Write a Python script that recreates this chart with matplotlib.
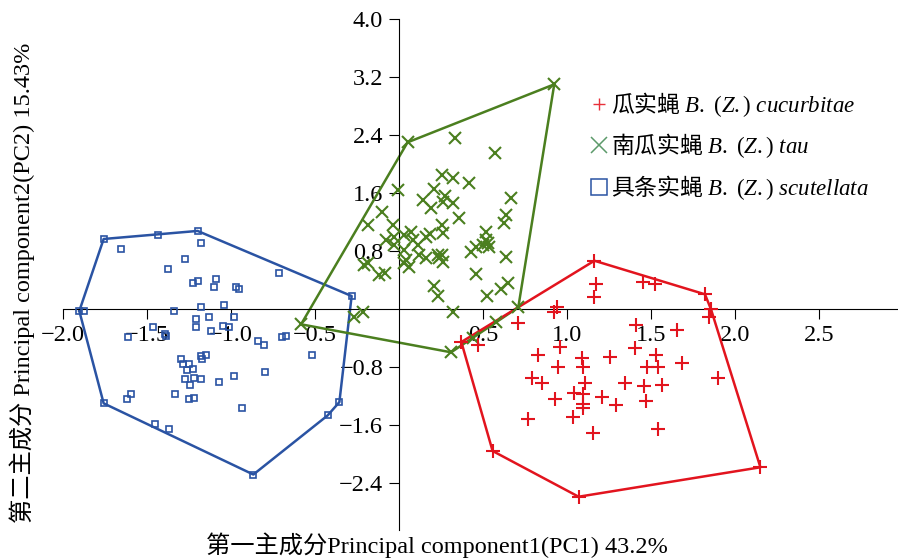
import numpy as np
import matplotlib
matplotlib.use("Agg")
import matplotlib.pyplot as plt
from matplotlib.lines import Line2D
from matplotlib.ticker import FixedLocator, FuncFormatter

plt.rcParams['font.family'] = ['Liberation Serif', 'Noto Sans CJK SC']
plt.rcParams['mathtext.fontset'] = 'custom'
plt.rcParams['mathtext.rm'] = 'Liberation Serif'
plt.rcParams['mathtext.it'] = 'Liberation Serif:italic'

# PCA scores (PC1, PC2) of each specimen, grouped by species
cucurbitae_pc1 = [1.163, 1.821, 2.151, 1.069, 0.557, 0.371, 1.173, 1.163, 1.454, 1.526,
                  1.857, 1.843, 0.938, 0.920, 0.710, 1.411, 1.652, 0.468, 1.407, 0.958,
                  0.825, 1.089, 1.097, 1.256, 1.530, 0.948, 1.474, 1.539, 1.682, 0.789,
                  0.849, 1.107, 1.347, 1.456, 1.563, 1.899, 1.043, 1.097, 1.097, 1.093,
                  0.930, 1.206, 1.292, 1.470, 0.765, 1.038, 1.157, 1.539]
cucurbitae_pc2 = [0.670, 0.207, -2.179, -2.585, -1.954, -0.451, 0.345, 0.174, 0.372, 0.345,
                  0.000, -0.102, 0.036, -0.033, -0.185, -0.217, -0.286, -0.492, -0.538, -0.516,
                  -0.630, -0.676, -0.792, -0.654, -0.630, -0.792, -0.792, -0.792, -0.737, -0.952,
                  -1.021, -1.021, -1.021, -1.058, -1.044, -0.952, -1.159, -1.168, -1.310, -1.366,
                  -1.241, -1.206, -1.320, -1.265, -1.513, -1.490, -1.702, -1.651]

tau_pc1 = [-0.583, 0.051, 0.924, 0.710, 0.310, 0.335, 0.573, 0.254, 0.323, 0.418,
           -0.008, 0.210, 0.274, 0.140, 0.190, 0.260, 0.319, 0.667, -0.104, 0.359,
           0.637, 0.627, -0.187, -0.038, 0.254, 0.260, 0.518, -0.207, -0.187, -0.077,
           -0.028, -0.028, 0.032, 0.071, 0.081, 0.161, 0.186, 0.032, 0.042, 0.111,
           0.121, 0.161, 0.230, 0.254, 0.260, 0.240, 0.429, 0.458, 0.498, 0.527,
           0.538, 0.518, 0.637, 0.032, 0.061, -0.117, -0.083, 0.458, 0.210, 0.230,
           0.524, 0.607, 0.646, -0.266, -0.217, 0.319, 0.577, 0.440]
tau_pc2 = [-0.207, 2.303, 3.103, 0.028, -0.593, 2.359, 2.152, 1.852, 1.807, 1.738,
           1.646, 1.655, 1.563, 1.508, 1.393, 1.484, 1.462, 1.531, 1.346, 1.255,
           1.301, 1.186, 1.163, 1.163, 1.163, 1.048, 1.070, 0.611, 0.634, 0.956,
           1.001, 0.887, 1.025, 1.070, 0.956, 1.001, 1.039, 0.818, 0.680, 0.887,
           0.749, 0.703, 0.749, 0.749, 0.657, 0.703, 0.794, 0.863, 0.887, 0.910,
           0.863, 0.956, 0.726, 0.634, 0.588, 0.473, 0.497, 0.483, 0.321, 0.183,
           0.183, 0.276, 0.367, -0.102, -0.033, -0.033, -0.180, -0.390]

scutellata_pc1 = [-1.758, -1.437, -1.199, -0.282, -0.355, -0.425, -0.867, -1.367, -1.451, -1.758,
                  -1.903, -1.877, -1.653, -1.177, -1.272, -1.377, -0.713, -1.229, -1.196, -1.092,
                  -1.104, -0.973, -0.951, -1.342, -1.177, -1.044, -1.208, -1.129, -0.982, -1.208,
                  -1.464, -1.393, -1.387, -1.615, -1.117, -1.050, -1.010, -0.696, -0.673, -0.842,
                  -0.806, -0.520, -1.179, -1.149, -1.175, -1.296, -1.284, -1.248, -1.224, -1.262,
                  -1.272, -1.218, -1.244, -1.177, -1.070, -0.985, -0.798, -1.593, -1.617, -1.332,
                  -1.248, -1.218, -0.937]
scutellata_pc2 = [0.970, 1.026, 1.081, 0.183, -1.280, -1.464, -2.279, -1.655, -1.578, -1.297,
                  -0.023, -0.023, 0.832, 0.910, 0.694, 0.556, 0.497, 0.367, 0.386, 0.414,
                  0.303, 0.303, 0.280, -0.023, 0.028, 0.059, -0.134, -0.110, -0.110, -0.244,
                  -0.248, -0.345, -0.364, -0.378, -0.299, -0.226, -0.240, -0.378, -0.364, -0.437,
                  -0.497, -0.634, -0.644, -0.630, -0.690, -0.690, -0.754, -0.750, -0.828, -0.837,
                  -0.966, -0.948, -1.048, -0.966, -1.003, -0.916, -0.861, -1.164, -1.241, -1.164,
                  -1.241, -1.219, -1.357]

species_labels = [r'瓜实蝇 $B.\ (Z.)\ cucurbitae$',
                  r'南瓜实蝇 $B.\ (Z.)\ tau$',
                  r'具条实蝇 $B.\ (Z.)\ scutellata$']

x_ticks = [-2.0, -1.5, -1.0, -0.5, 0.5, 1.0, 1.5, 2.0, 2.5]
y_ticks = [-2.4, -1.6, -0.8, 0.8, 1.6, 2.4, 3.2, 4.0]

RED = '#e2141e'
GREEN = '#4b7f1f'
BLUE = '#2a53a3'


def convex_hull(xs, ys):
    # Andrew's monotone chain, returns closed polygon
    pts = sorted(set(zip(xs, ys)))

    def cross(o, a, b):
        return (a[0] - o[0]) * (b[1] - o[1]) - (a[1] - o[1]) * (b[0] - o[0])

    lower = []
    for p in pts:
        while len(lower) >= 2 and cross(lower[-2], lower[-1], p) <= 0:
            lower.pop()
        lower.append(p)
    upper = []
    for p in reversed(pts):
        while len(upper) >= 2 and cross(upper[-2], upper[-1], p) <= 0:
            upper.pop()
        upper.append(p)
    hull = lower[:-1] + upper[:-1]
    hull.append(hull[0])
    return np.array(hull)


def minus_fmt(v, pos):
    return f'{v:.1f}'.replace('-', '\u2212')


fig = plt.figure(figsize=(8.98, 5.6), dpi=100)
ax = fig.add_axes([63 / 898, 30 / 560, 835 / 898, 510.7 / 560])
ax.set_xlim(-2.0, 2.97)
ax.set_ylim(-3.044, 4.0)

groups = [
    (scutellata_pc1, scutellata_pc2, BLUE, dict(marker='s', ms=4.8, mew=1.2, mfc='none')),
    (tau_pc1, tau_pc2, GREEN, dict(marker='x', ms=9, mew=1.5)),
    (cucurbitae_pc1, cucurbitae_pc2, RED, dict(marker='+', ms=10, mew=1.5)),
]
for xs, ys, col, mk in groups:
    hull = convex_hull(xs, ys)
    ax.plot(hull[:, 0], hull[:, 1], color=col, lw=1.8, zorder=2)
    ax.plot(xs, ys, ls='none', color=col, mec=col, zorder=3, **mk)

# axes cross at the origin
ax.spines['left'].set_position(('data', 0))
ax.spines['bottom'].set_position(('data', 0))
ax.spines['top'].set_visible(False)
ax.spines['right'].set_visible(False)
for s in ('left', 'bottom'):
    ax.spines[s].set_linewidth(0.8)

ax.xaxis.set_major_locator(FixedLocator(x_ticks))
ax.yaxis.set_major_locator(FixedLocator(y_ticks))
ax.xaxis.set_major_formatter(FuncFormatter(minus_fmt))
ax.yaxis.set_major_formatter(FuncFormatter(minus_fmt))
ax.tick_params(direction='out', length=7, width=0.8, pad=4.5, labelsize=17.5)

handles = [
    Line2D([], [], ls='none', marker='+', ms=8, mew=1.0, color='#e8303a'),
    Line2D([], [], ls='none', marker='x', ms=11, mew=1.1, color='#5c9a6a'),
    Line2D([], [], ls='none', marker='s', ms=11, mew=1.1, mfc='none', color=BLUE),
]
ax.legend(handles, species_labels, loc='upper left',
          bbox_to_anchor=(592 / 898, 1 - 90 / 560), bbox_transform=fig.transFigure,
          frameon=False, borderpad=0, borderaxespad=0, handlelength=0.6,
          handletextpad=0.25, labelspacing=0.55,
          prop={'family': ['Noto Sans CJK SC'], 'size': 16.5})

fig.text(437 / 898, 1 - 545 / 560, '第一主成分Principal component1(PC1) 43.2%',
         ha='center', va='center', fontsize=17.5)
fig.text(22 / 898, 1 - 283 / 560, '第二主成分 Principal component2(PC2) 15.43%',
         ha='center', va='center', rotation=90, fontsize=17.5)

fig.savefig('out.png', dpi=100)
